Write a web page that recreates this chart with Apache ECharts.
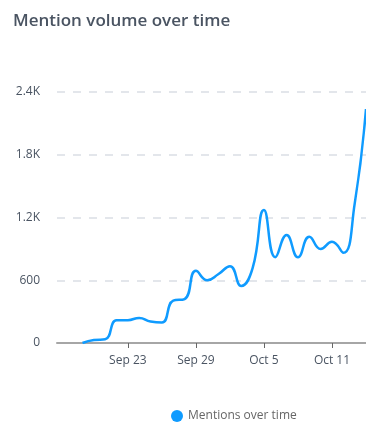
<!DOCTYPE html>
<html>
<head>
<meta charset="utf-8">
<script src="https://cdn.jsdelivr.net/npm/echarts@6/dist/echarts.min.js"></script>
<style>
html,body{margin:0;padding:0;background:#fff;}
#c{width:366px;height:436px;}
</style>
</head>
<body>
<div id="c"></div>
<script>
var dates = ["2023-09-19","2023-09-20","2023-09-21","2023-09-22","2023-09-23","2023-09-24","2023-09-25","2023-09-26","2023-09-27","2023-09-28","2023-09-29","2023-09-30","2023-10-01","2023-10-02","2023-10-03","2023-10-04","2023-10-05","2023-10-06","2023-10-07","2023-10-08","2023-10-09","2023-10-10","2023-10-11","2023-10-12","2023-10-13","2023-10-14"];
var mentions = [0, 28, 35, 217, 218, 240, 205, 195, 405, 420, 690, 600, 660, 735, 545, 715, 1272, 820, 1033, 820, 1016, 899, 968, 863, 1330, 2237];
var tickDates = ["2023-09-23","2023-09-29","2023-10-05","2023-10-11"];
var yTicks = [0, 600, 1200, 1800, 2400];
var seriesName = "Mentions over time";

function ts(s){ var p = s.split("-"); return new Date(+p[0], +p[1]-1, +p[2]).getTime(); }
var DAY = 86400000;
var months = ["Jan","Feb","Mar","Apr","May","Jun","Jul","Aug","Sep","Oct","Nov","Dec"];

var chart = echarts.init(document.getElementById('c'), null, {renderer:'canvas'});
chart.setOption({
  animation: false,
  title: {
    text: 'Mention volume over time',
    left: 8, top: 8,
    textStyle: {fontFamily: 'Open Sans', fontSize: 17, fontWeight: 600, color: '#4a5462'}
  },
  legend: {
    data: [seriesName],
    left: 166, top: 405,
    icon: 'circle', itemWidth: 12, itemHeight: 12, itemGap: 10,
    textStyle: {fontFamily: 'Open Sans', fontSize: 12, color: '#666'}
  },
  grid: {left: 57, right: 0, top: 92, bottom: 93, containLabel: false},
  xAxis: {
    type: 'value',
    min: ts("2023-09-16") + 0.75 * DAY,
    max: ts("2023-10-14"),
    axisLine: {show: true, onZero: false, lineStyle: {color: '#a6a6a6', width: 2}},
    axisTick: {show: true, length: 5, lineStyle: {color: '#666', width: 1},
      customValues: tickDates.map(ts)},
    splitLine: {show: false},
    axisLabel: {
      customValues: tickDates.map(ts),
      margin: 12,
      fontFamily: 'Open Sans', fontSize: 12, color: '#4a5462',
      formatter: function(v){ var d = new Date(v); return months[d.getMonth()] + ' ' + d.getDate(); }
    }
  },
  yAxis: {
    type: 'value',
    min: 0, max: 2400, interval: 600,
    axisLine: {show: false},
    axisTick: {show: false},
    splitLine: {show: true, lineStyle: {color: '#e3e6eb', width: 2, type: [8, 8]}},
    axisLabel: {
      margin: 17,
      fontFamily: 'Open Sans', fontSize: 12, color: '#4a5462',
      formatter: function(v){ return v >= 1000 ? (v/1000).toFixed(1) + 'K' : String(v); }
    }
  },
  series: [{
    name: seriesName,
    type: 'line',
    smooth: 0.5,
    showSymbol: false,
    symbol: 'circle',
    clip: true,
    color: '#0f9bff',
    lineStyle: {width: 2.5, color: '#0f9bff'},
    data: dates.map(function(d, i){ return [ts(d), mentions[i]]; })
  }]
});
</script>
</body>
</html>
